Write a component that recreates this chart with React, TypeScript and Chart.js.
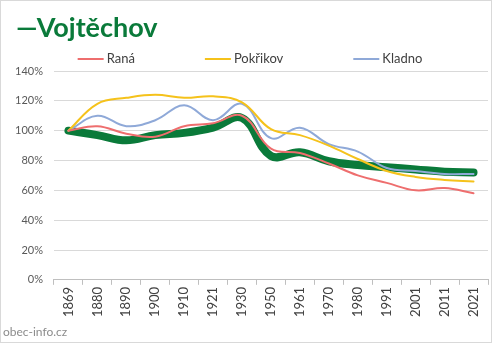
import React, { useEffect, useRef } from "react";
import { Chart, registerables } from "chart.js";

Chart.register(...registerables);

const years = ["1869", "1880", "1890", "1900", "1910", "1921", "1930", "1950", "1961", "1970", "1980", "1991", "2001", "2011", "2021"];
const rana = [100, 103, 98, 96, 103, 105, 110, 88, 85, 78, 70, 65, 60, 61.5, 58];
const pokrikov = [100, 118, 122, 124, 122, 123, 119, 101, 97, 90, 81, 73, 69, 67, 66];
const kladno = [100, 110, 103, 107, 117, 107, 118, 95, 102, 91, 86, 75, 73, 71, 71];
const vojtechov = [100, 97, 93.5, 97, 98.5, 102, 108.5, 83, 85.5, 79.5, 77, 75.5, 74, 72.5, 72];
const yTicks = [0, 20, 40, 60, 80, 100, 120, 140];
const titleText = "—Vojtěchov";
const footerText = "obec-info.cz";

const FONT = "Lato, 'Liberation Sans', sans-serif";

export default function App() {
  const ref = useRef<HTMLCanvasElement | null>(null);
  useEffect(() => {
    const canvas = ref.current;
    if (!canvas) return;
    const decor = {
      id: "decor",
      afterDraw(chart: any) {
        const ctx = chart.ctx;
        ctx.save();
        // title
        ctx.font = `bold 27px ${FONT}`;
        ctx.fillStyle = "#0a7a3a";
        ctx.textBaseline = "alphabetic";
        ctx.textAlign = "left";
        ctx.fillText(titleText, 16, 37);
        // legend
        const items = chart.data.datasets.filter((d: any) => d.label !== "Vojtěchov");
        ctx.font = `13px ${FONT}`;
        const boxW = 26, gapText = 3, gap = 70;
        const widths = items.map((d: any) => boxW + gapText + ctx.measureText(d.label).width);
        const total = widths.reduce((a: number, b: number) => a + b, 0) + gap * (items.length - 1);
        let x = 250 - total / 2;
        const y = 59;
        items.forEach((d: any, i: number) => {
          ctx.strokeStyle = d.borderColor;
          ctx.lineWidth = 2;
          ctx.beginPath();
          ctx.moveTo(x, y);
          ctx.lineTo(x + boxW, y);
          ctx.stroke();
          ctx.fillStyle = "#404040";
          ctx.textBaseline = "middle";
          ctx.fillText(d.label, x + boxW + gapText, y);
          x += widths[i] + gap;
        });
        // footer
        ctx.font = `12px ${FONT}`;
        ctx.fillStyle = "#8c8c8c";
        ctx.textBaseline = "alphabetic";
        ctx.fillText(footerText, 3, 336);
        ctx.strokeStyle = "#d9d9d9";
        ctx.lineWidth = 1;
        ctx.strokeRect(0.5, 0.5, chart.width - 1, chart.height - 1);
        ctx.restore();
      },
    };
    const mk = (label: string, data: number[], color: string, width: number) => ({
      label,
      data,
      borderColor: color,
      backgroundColor: color,
      borderWidth: width,
      pointRadius: 0,
      tension: 0.4,
      fill: false,
      borderCapStyle: "round" as const,
    });
    const chart = new Chart(canvas, {
      type: "line",
      data: {
        labels: years,
        datasets: [
          mk("Raná", rana, "#ee6e6e", 2),
          mk("Pokřikov", pokrikov, "#f5c21b", 2),
          mk("Kladno", kladno, "#8fa9d8", 2),
          mk("Vojtěchov", vojtechov, "#0a7a3a", 8),
        ],
      },
      options: {
        animation: false,
        responsive: false,
        maintainAspectRatio: false,
        layout: { padding: { left: 4, right: 4, top: 71, bottom: 24 } },
        plugins: {
          title: { display: false },
          legend: { display: false },
          tooltip: { enabled: false },
        },
        scales: {
          x: {
            offset: true,
            grid: { display: true, drawOnChartArea: false, drawTicks: true, tickLength: 5, color: "#bfbfbf", offset: true },
            border: { color: "#bfbfbf" },
            ticks: {
              maxRotation: 90,
              minRotation: 90,
              autoSkip: false,
              color: "#404040",
              font: { family: FONT, size: 13 },
              padding: 2,
            },
          },
          y: {
            min: 0,
            max: 140,
            afterBuildTicks: (axis: any) => {
              axis.ticks = yTicks.map((v) => ({ value: v }));
            },
            grid: { color: "#d9d9d9", drawTicks: false },
            border: { display: false },
            ticks: {
              callback: (v: any) => `${v}%`,
              color: "#595959",
              font: { family: FONT, size: 11 },
              padding: 11,
            },
          },
        },
      },
      plugins: [decor],
    });
    return () => chart.destroy();
  }, []);
  return (
    <div style={{ position: "fixed", left: 0, top: 0, width: 492, height: 343, background: "#fff" }}>
      <canvas ref={ref} width={492} height={343} style={{ width: 492, height: 343 }} />
    </div>
  );
}
